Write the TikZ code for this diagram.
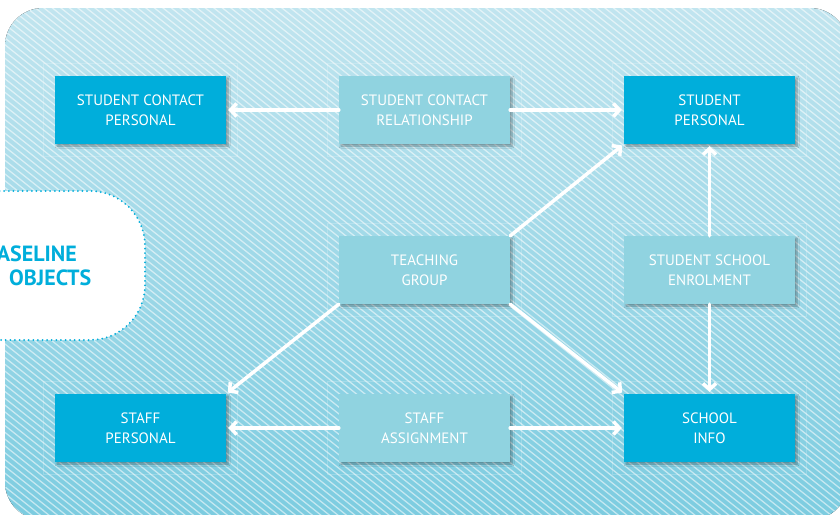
\documentclass[tikz,border=0pt]{standalone}
\usepackage{fontspec}
\setmainfont{PT Sans}
\usetikzlibrary{arrows.meta,shadows.blur}

\definecolor{boxdark}{RGB}{0,174,219}
\definecolor{boxlight}{RGB}{144,211,224}
\definecolor{bgtop}{RGB}{194,229,239}
\definecolor{bgbottom}{RGB}{124,204,224}
\definecolor{tagblue}{RGB}{0,174,219}

\tikzset{
  objbox/.style={minimum width=171pt, minimum height=68pt, inner sep=0pt,
    align=center, text=white,
    blur shadow={shadow xshift=2pt, shadow yshift=-2pt, shadow blur steps=6, shadow opacity=35}},
  darkbox/.style={objbox, fill=boxdark},
  lightbox/.style={objbox, fill=boxlight},
  frame/.style={draw=white, draw opacity=0.2, line width=0.8pt},
  stripe/.style={draw=white, draw opacity=0.55, line width=1.3pt},
  link/.style={draw=white, line width=3.5pt, shorten >=2pt,
    -{Straight Barb[length=6pt, width=13pt]}},
  tagtext/.style={text=tagblue, font=\fontsize{22}{27}\selectfont\bfseries, inner sep=0pt},
}

\begin{document}
\begin{tikzpicture}[x=1pt, y=-1pt, font=\fontsize{15}{20}\selectfont, line join=round, line cap=round]
	\useasboundingbox (0,0) rectangle (840,514);
	% striped panel
	\begin{scope}
		\clip[rounded corners=38pt] (5,8) rectangle (848,520);
		\fill[top color=bgtop, bottom color=bgbottom] (0,0) rectangle (850,520);
		\foreach \i in {-80,...,100}
			\draw[stripe] (\i*8.5,0) -- ++(660,528);
	\end{scope}
	% baseline tag
	\draw[fill=white, draw=tagblue, line width=2pt, dash pattern=on 0pt off 4.6pt, rounded corners=55pt]
		(-60,191) -- (145,191) -- (145,340) -- (-60,340) -- cycle;
	\node[tagtext, anchor=base east] (tag1) at (77,261) {ASELINE};
	\node[tagtext, anchor=base west] (tag2) at (9,285) {OBJECTS};
	% objects
	\node[darkbox] (scp) at (140.5,110) {STUDENT CONTACT\\PERSONAL};
	\node[lightbox] (scr) at (424.5,110) {STUDENT CONTACT\\RELATIONSHIP};
	\node[darkbox] (sp) at (709.5,110) {STUDENT\\PERSONAL};
	\node[lightbox] (tg) at (424.5,270) {TEACHING\\GROUP};
	\node[lightbox] (sse) at (709.5,270) {STUDENT SCHOOL\\ENROLMENT};
	\node[darkbox] (stp) at (140.5,428) {STAFF\\PERSONAL};
	\node[lightbox] (sa) at (424.5,428) {STAFF\\ASSIGNMENT};
	\node[darkbox] (si) at (709.5,428) {SCHOOL\\INFO};
	\foreach \n in {scp,scr,sp,tg,sse,stp,sa,si}
		\draw[frame] ([xshift=-11pt,yshift=12pt]\n.north west) rectangle ([xshift=11pt,yshift=-12pt]\n.south east);
	% links
	\draw[link] (scr.west) -- (scp.east);
	\draw[link] (scr.east) -- (sp.west);
	\draw[link] (tg.north east) -- (sp.south west);
	\draw[link] (sse.north) -- (sp.south);
	\draw[link] (sse.south) -- (si.north);
	\draw[link] (tg.south east) -- (si.north west);
	\draw[link] (tg.south west) -- (stp.north east);
	\draw[link] (sa.west) -- (stp.east);
	\draw[link] (sa.east) -- (si.west);
\end{tikzpicture}
\end{document}
